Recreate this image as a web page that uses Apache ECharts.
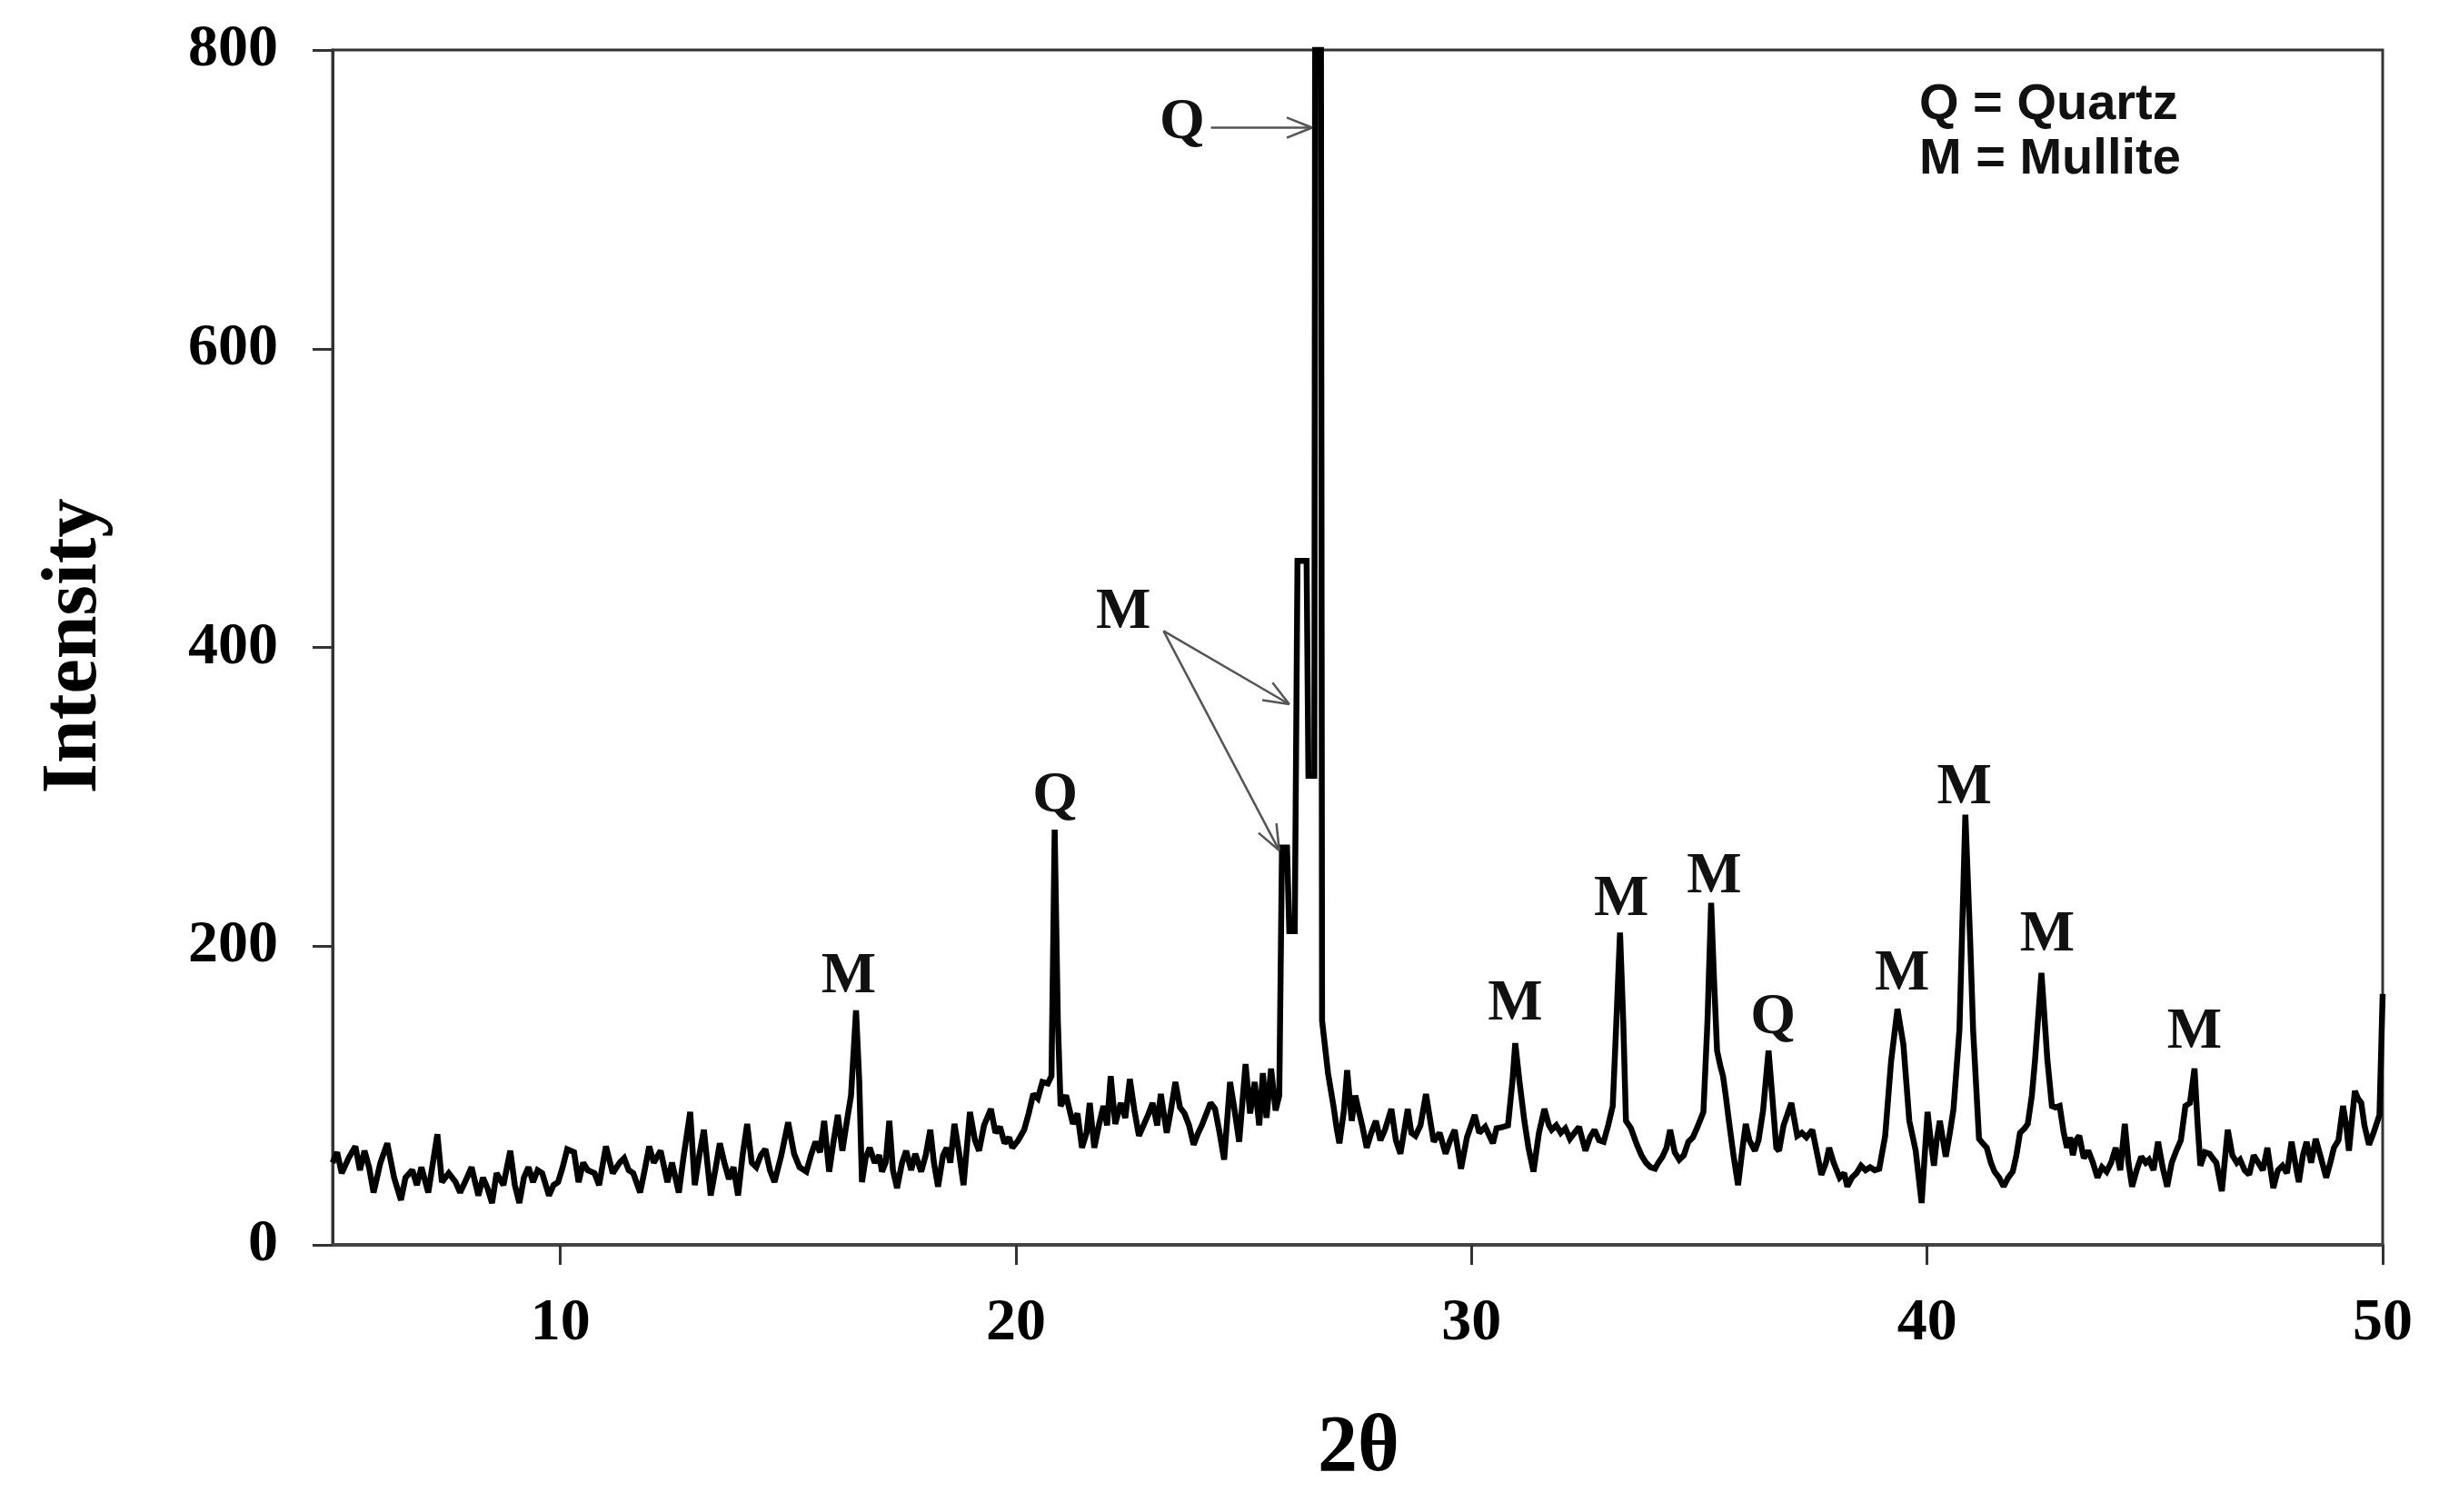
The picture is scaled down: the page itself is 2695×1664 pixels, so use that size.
<!DOCTYPE html>
<html><head><meta charset="utf-8">
<script src="https://cdn.jsdelivr.net/npm/echarts@6/dist/echarts.min.js"></script>
<style>html,body{margin:0;padding:0;background:#fff}#c{width:2695px;height:1664px}</style>
</head><body><div id="c"></div><script>
// XRD scan: [2θ, intensity]
const scanA = [[5.0,55],[5.1,62],[5.2,48],[5.35,58],[5.5,66],[5.6,50],[5.7,63],[5.8,52],[5.9,35],[6.05,55],[6.2,68],[6.35,45],[6.5,30],[6.6,45],[6.75,50],[6.85,40],[6.95,52],[7.1,35],[7.3,74],[7.4,42],[7.55,48],[7.7,42],[7.8,35],[7.95,45],[8.05,52],[8.2,33],[8.3,45],[8.4,38],[8.5,28],[8.6,48],[8.75,40],[8.9,63],[9.0,40],[9.1,28],[9.2,45],[9.3,52],[9.4,42],[9.5,50],[9.6,48],[9.75,33],[9.85,40],[9.95,42],[10.05,52],[10.15,64],[10.3,62],[10.4,42],[10.5,55],[10.6,50],[10.75,48],[10.85,40],[11.0,66],[11.15,48],[11.3,55],[11.4,58],[11.5,50],[11.6,48],[11.75,35],[11.85,50],[11.95,66],[12.05,55],[12.2,63],[12.35,42],[12.45,55],[12.6,35],[12.7,58],[12.85,89],[12.95,40],[13.05,60],[13.15,77],[13.3,33],[13.4,50],[13.5,68],[13.6,55],[13.7,44],[13.8,52],[13.9,33],[14.0,60],[14.1,81],[14.2,55],[14.3,52],[14.4,60],[14.5,64],[14.6,50],[14.7,42],[14.85,60]];
const scanB = [[15.0,82],[15.13,61],[15.25,52],[15.4,49],[15.5,60],[15.6,69],[15.7,62],[15.79,83],[15.9,49],[16.0,70],[16.09,87],[16.19,63],[16.29,83],[16.38,100],[16.49,157],[16.56,110],[16.62,42],[16.7,58],[16.79,65],[16.9,55],[17.0,60],[17.06,49],[17.14,55],[17.22,83],[17.3,50],[17.39,38],[17.5,55],[17.59,63],[17.7,50],[17.79,61],[17.92,49],[18.02,60],[18.12,77],[18.2,55],[18.29,39],[18.4,60],[18.48,65],[18.56,55],[18.65,81],[18.75,62],[18.85,40],[18.99,89],[19.1,70],[19.19,63],[19.3,80],[19.45,91],[19.55,75],[19.65,79],[19.75,68],[19.85,72],[19.92,65],[20.05,70],[20.18,77],[20.28,88],[20.38,101],[20.48,98],[20.58,109],[20.7,108],[20.78,113],[20.85,278],[20.92,150],[20.98,93],[21.1,100],[21.25,81],[21.35,88],[21.45,65],[21.55,75],[21.62,95],[21.72,65],[21.82,80],[21.92,93],[22.0,80],[22.08,113],[22.18,81],[22.3,95],[22.4,85],[22.5,111],[22.6,90],[22.7,73],[22.8,80],[22.9,87],[23.0,95],[23.1,80],[23.18,101],[23.31,75],[23.4,90],[23.5,109],[23.6,92],[23.7,88],[23.8,80],[23.9,67],[24.0,75],[24.08,80],[24.17,87],[24.27,95],[24.37,91],[24.47,75],[24.57,57],[24.7,109],[24.8,90],[24.9,69],[25.04,121],[25.14,88],[25.24,109],[25.34,80],[25.42,115],[25.5,85],[25.6,118],[25.7,90],[25.78,100]];
const scanC = [[25.84,266],[25.95,266],[26.0,210],[26.12,210],[26.18,458],[26.38,458],[26.42,314],[26.55,314],[26.58,1200],[26.68,1200],[26.72,150],[26.85,115],[26.97,93],[27.04,78],[27.1,68],[27.2,90],[27.27,117],[27.37,83],[27.45,100],[27.5,93],[27.6,80],[27.7,65],[27.8,75],[27.9,83],[28.0,70],[28.1,77],[28.24,91],[28.34,70],[28.44,61],[28.6,91],[28.68,75],[28.77,73],[28.88,80],[29.0,101],[29.17,69],[29.3,75],[29.43,61],[29.53,70],[29.63,77],[29.77,51],[29.9,72],[30.07,87],[30.17,75],[30.3,79],[30.47,68],[30.55,78],[30.7,79],[30.8,80],[30.9,110],[30.96,135],[31.05,110],[31.16,83],[31.25,65],[31.36,49],[31.48,75],[31.6,91],[31.7,80],[31.76,77],[31.86,80],[31.96,75],[32.06,78],[32.16,71],[32.26,75],[32.36,79],[32.5,63],[32.6,72],[32.7,77],[32.8,70],[32.9,69],[33.0,80],[33.1,93],[33.18,150],[33.26,209],[33.33,150],[33.39,83],[33.5,78],[33.63,67],[33.73,60],[33.83,55],[33.93,52],[34.03,51],[34.1,55],[34.19,59],[34.28,65],[34.36,77],[34.46,62],[34.56,57],[34.66,60],[34.76,69],[34.86,72],[34.96,79]];
const scanD = [[35.09,89],[35.18,150],[35.26,229],[35.32,180],[35.39,130],[35.46,120],[35.52,113],[35.58,100],[35.65,83],[35.75,60],[35.85,40],[35.95,65],[36.02,81],[36.1,70],[36.22,63],[36.3,70],[36.4,90],[36.52,130],[36.6,100],[36.69,65],[36.75,63],[36.85,80],[37.02,95],[37.15,73],[37.25,75],[37.35,72],[37.48,77],[37.58,62],[37.68,47],[37.78,55],[37.85,65],[37.95,55],[38.08,45],[38.18,48],[38.25,39],[38.35,45],[38.45,48],[38.55,53],[38.65,50],[38.75,52],[38.85,50],[38.95,51],[39.08,73],[39.21,123],[39.35,158],[39.48,134],[39.61,83],[39.75,63],[39.88,28],[40.01,89],[40.08,70],[40.15,53],[40.21,70],[40.28,83],[40.35,70],[40.41,59],[40.5,75],[40.58,91],[40.71,144],[40.84,288],[40.95,200],[41.01,144],[41.14,71],[41.22,68],[41.31,65],[41.4,55],[41.48,49],[41.58,45],[41.68,39],[41.78,45],[41.88,49],[41.96,60],[42.04,75],[42.14,78],[42.21,81],[42.3,100],[42.37,124],[42.51,182],[42.64,124],[42.74,93],[42.82,92],[42.91,93],[43.0,75],[43.07,65],[43.14,72],[43.2,60],[43.27,70],[43.34,73],[43.44,58],[43.54,63],[43.64,55],[43.74,45],[43.84,52],[43.94,49],[44.04,55],[44.14,65],[44.24,50],[44.34,81],[44.42,55],[44.5,39],[44.6,50],[44.7,59],[44.8,55],[44.87,57],[44.97,50],[45.07,69],[45.17,52],[45.27,39],[45.37,55],[45.47,63],[45.57,70],[45.67,93],[45.77,95],[45.87,118],[45.94,80],[46.0,53],[46.1,62],[46.2,61],[46.27,58],[46.35,55],[46.47,36],[46.6,77],[46.7,60],[46.8,55],[46.87,57],[46.97,50],[47.07,47],[47.17,60],[47.27,55],[47.37,50],[47.47,65],[47.6,38],[47.7,50],[47.8,53],[47.9,48],[48.0,69],[48.08,55],[48.16,42],[48.25,60],[48.33,69],[48.43,55],[48.53,71],[48.63,60],[48.76,45],[48.85,55],[48.93,65],[49.03,70],[49.13,93],[49.2,80],[49.26,63],[49.33,85],[49.39,103],[49.46,98],[49.53,95],[49.6,80],[49.7,67],[49.8,75],[49.93,87],[50.0,168]];

const xTicks = [10, 20, 30, 40, 50];
const peakLabelText = ['M','Q','M','M','M','Q','M','M','M','M'];
const peakLabelX = [16.33, 20.86, 30.96, 33.29, 35.33, 36.62, 39.45, 40.82, 42.64, 45.87];
const peakLabelY = [179, 300, 161, 231, 246, 152, 181, 306, 207, 142];
const quartzMainLabel = [23.65, 751];
const quartzArrow = [[24.28, 748], [26.5, 748]];
const mulliteLabel = [22.36, 423];
const mulliteArrows = [[[23.24, 411], [26.0, 362]], [[23.24, 411], [25.78, 264]]];
const legendLines = ['Q = Quartz', 'M = Mullite'];

const chart = echarts.init(document.getElementById('c'), null, {renderer: 'canvas'});
const serif = '"Liberation Serif", "Times New Roman", serif';
chart.setOption({
  animation: false,
  backgroundColor: '#fff',
  grid: {left: 366, right: 73, top: 55, bottom: 294, show: true, borderColor: '#333', borderWidth: 3},
  xAxis: {
    type: 'value', min: 5, max: 50,
    axisLine: {show: true, onZero: false, lineStyle: {color: '#444', width: 4}},
    axisTick: {show: true, length: 22, customValues: xTicks, lineStyle: {color: '#333', width: 3}},
    axisLabel: {show: true, customValues: xTicks, margin: 54, fontFamily: serif, fontWeight: 'bold', fontSize: 66, color: '#000'},
    splitLine: {show: false}
  },
  yAxis: {
    type: 'value', min: 0, max: 800, interval: 200,
    axisLine: {show: true, lineStyle: {color: '#333', width: 3}},
    axisTick: {show: true, length: 22, lineStyle: {color: '#333', width: 3}},
    axisLabel: {margin: 60, fontFamily: serif, fontWeight: 'bold', fontSize: 66, color: '#000'},
    splitLine: {show: false}
  },
  series: [{
    type: 'line', data: [].concat(scanA, scanB, scanC, scanD), showSymbol: false, symbol: 'none',
    clip: true, lineStyle: {color: '#000', width: 6.5, join: 'miter', miterLimit: 2}, z: 3
  }]
});

const px = p => chart.convertToPixel({gridIndex: 0}, p);
const g = [];
const labelFont = 'bold 64px ' + serif;
peakLabelText.forEach((t, i) => {
  const p = px([peakLabelX[i], peakLabelY[i]]);
  g.push({type: 'text', x: p[0], y: p[1], z: 10, style: {text: t, font: labelFont, fill: '#111', align: 'center', verticalAlign: 'middle'}});
});
function arrow(from, to) {
  const a = px(from), b = px(to);
  g.push({type: 'line', z: 9, shape: {x1: a[0], y1: a[1], x2: b[0], y2: b[1]}, style: {stroke: '#555', lineWidth: 2.5}});
  const ang = Math.atan2(b[1] - a[1], b[0] - a[0]);
  const L = 30, s = 0.38;
  [ang + Math.PI - s, ang + Math.PI + s].forEach(t => {
    g.push({type: 'line', z: 9, shape: {x1: b[0], y1: b[1], x2: b[0] + L * Math.cos(t), y2: b[1] + L * Math.sin(t)}, style: {stroke: '#555', lineWidth: 2.5}});
  });
}
let q = px(quartzMainLabel);
g.push({type: 'text', x: q[0], y: q[1], z: 10, style: {text: 'Q', font: labelFont, fill: '#111', align: 'center', verticalAlign: 'middle'}});
arrow(quartzArrow[0], quartzArrow[1]);
let m = px(mulliteLabel);
g.push({type: 'text', x: m[0], y: m[1], z: 10, style: {text: 'M', font: labelFont, fill: '#111', align: 'center', verticalAlign: 'middle'}});
mulliteArrows.forEach(a => arrow(a[0], a[1]));
legendLines.forEach((t, i) => {
  g.push({type: 'text', x: 2112, y: 116 + i * 60, z: 10, style: {text: t, font: 'bold 56px "Liberation Sans", Arial, sans-serif', fill: '#111', align: 'left', verticalAlign: 'middle'}});
});
g.push({type: 'text', x: 83, y: 711, rotation: Math.PI / 2, z: 10, style: {text: 'Intensity', font: 'bold 86px ' + serif, fill: '#000', align: 'center', verticalAlign: 'middle'}});
g.push({type: 'text', x: 1495, y: 1595, z: 10, style: {text: '2θ', font: 'bold 88px ' + serif, fill: '#000', align: 'center', verticalAlign: 'middle'}});
chart.setOption({graphic: g});
</script></body></html>
